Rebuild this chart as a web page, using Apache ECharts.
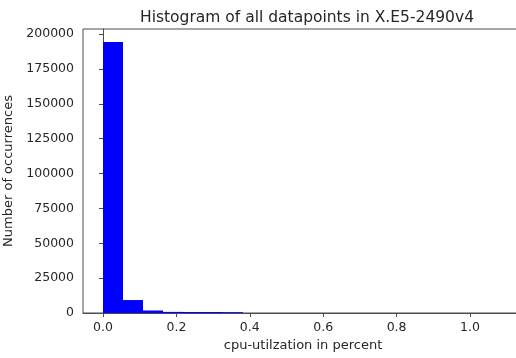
<!DOCTYPE html>
<html>
<head>
<meta charset="utf-8">
<script src="https://cdn.jsdelivr.net/npm/echarts@6/dist/echarts.min.js"></script>
<style>
  html, body { margin: 0; padding: 0; background: #fff; overflow: hidden; }
  #chart { width: 516px; height: 358px; }
</style>
</head>
<body>
<div id="chart"></div>
<script>
// Histogram bins (20 equal-width bins over the utilization range)
const binEdges = [0.0, 0.0545, 0.109, 0.1635, 0.218, 0.2725, 0.327, 0.3815, 0.436, 0.4905,
                  0.545, 0.5995, 0.654, 0.7085, 0.763, 0.8175, 0.872, 0.9265, 0.981, 1.0355, 1.09];
const binCounts = [194400, 9300, 1800, 800, 700, 700, 600, 0, 0, 0,
                   0, 0, 0, 0, 0, 0, 0, 0, 0, 5];
const xTickValues = [0.0, 0.2, 0.4, 0.6, 0.8, 1.0];
const yTickValues = [0, 25000, 50000, 75000, 100000, 125000, 150000, 175000, 200000];

const titleText = 'Histogram of all datapoints in X.E5-2490v4';
const xName = 'cpu-utilzation in percent';
const yName = 'Number of occurrences';

const bins = binCounts.map((c, i) => [binEdges[i], binEdges[i + 1], c]);

const FONT = 'DejaVu Sans';
const TEXT = '#262626';
const SPINE = '#4d4d4d';

const chart = echarts.init(document.getElementById('chart'), null, { renderer: 'canvas' });

chart.setOption({
  animation: false,
  backgroundColor: '#ffffff',
  title: {
    text: titleText,
    left: 302,
    top: 5,
    textAlign: 'center',
    textStyle: { fontFamily: FONT, fontSize: 15.5, fontWeight: 'normal', color: TEXT }
  },
  grid: {
    left: 83, top: 29, width: 440, bottom: 45,
    outerBoundsMode: 'none',
    containLabel: false,
    show: true, borderColor: SPINE, borderWidth: 1, backgroundColor: 'transparent'
  },
  xAxis: {
    type: 'value',
    min: -0.0545,
    max: 1.1445,
    name: xName,
    nameLocation: 'middle',
    nameGap: 25,
    nameTextStyle: { fontFamily: FONT, fontSize: 13, color: TEXT },
    splitLine: { show: false },
    axisLine: { show: true, onZero: false, lineStyle: { color: SPINE, width: 1 } },
    axisTick: { show: true, length: 4, inside: false, customValues: xTickValues,
                lineStyle: { color: SPINE, width: 1 } },
    axisLabel: {
      customValues: xTickValues,
      margin: 8,
      fontFamily: FONT, fontSize: 12.5, color: TEXT,
      formatter: v => v.toFixed(1)
    }
  },
  yAxis: {
    type: 'value',
    min: 0,
    max: 203700,
    name: yName,
    nameLocation: 'middle',
    nameGap: 66,
    nameRotate: 90,
    nameTextStyle: { fontFamily: FONT, fontSize: 13, color: TEXT },
    splitLine: { show: false },
    axisLine: { show: true, lineStyle: { color: SPINE, width: 1 } },
    axisTick: { show: true, length: 4, inside: false, customValues: yTickValues,
                lineStyle: { color: SPINE, width: 1 } },
    axisLabel: {
      customValues: yTickValues,
      margin: 9,
      fontFamily: FONT, fontSize: 12.5, color: TEXT,
      formatter: v => String(v)
    }
  },
  series: [{
    type: 'custom',
    data: bins,
    encode: { x: [0, 1], y: 2 },
    renderItem: function (params, api) {
      const p0 = api.coord([api.value(0), api.value(2)]);
      const p1 = api.coord([api.value(1), 0]);
      return {
        type: 'rect',
        shape: { x: p0[0], y: p0[1], width: p1[0] - p0[0], height: p1[1] - p0[1] },
        style: { fill: '#0000ff' }
      };
    }
  }]
});
</script>
</body>
</html>
